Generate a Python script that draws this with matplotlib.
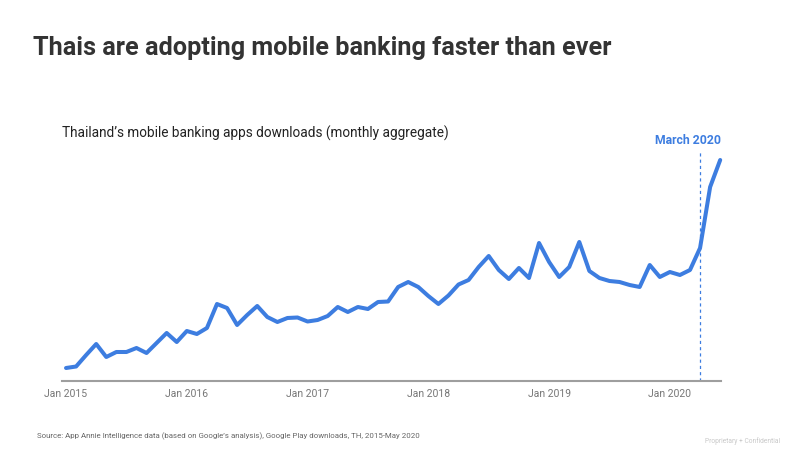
import matplotlib.pyplot as plt
import numpy as np

# monthly downloads index, Jan 2015 .. Jun 2020 (arbitrary units)
downloads = [13, 14.5, 26, 37, 24, 29, 29, 33, 28, 38, 48, 39,
             50, 47, 53, 77, 73, 56, 66, 75, 64, 59, 63, 63.5,
             59.5, 61, 65, 74, 69, 74, 72, 79, 79.5, 94, 99, 94,
             85, 77, 85.5, 96.5, 101, 114, 125, 111, 102, 113, 103, 138,
             119, 104, 114, 139, 110, 103, 100, 99, 96, 94, 116, 104,
             109, 106, 111, 133, 194, 221]
months = np.arange(len(downloads))
tick_months = [0, 12, 24, 36, 48, 60]
tick_labels = ['Jan 2015', 'Jan 2016', 'Jan 2017', 'Jan 2018', 'Jan 2019', 'Jan 2020']
marker_month = 63
marker_label = 'March 2020'

blue = '#3d7de0'
plt.rcParams['font.family'] = ['Roboto', 'DejaVu Sans']

fig = plt.figure(figsize=(8, 4.57), dpi=100)
ax = fig.add_axes([0.0775, 0.1663, 0.824, 0.5055])

ax.plot(months, downloads, color=blue, linewidth=2.9,
        solid_capstyle='round', solid_joinstyle='round', clip_on=False)
ax.axvline(marker_month, color=blue, linewidth=0.9, linestyle=(0, (2.5, 2.5)))
ax.text(1.0, 1.015, marker_label, transform=ax.transAxes,
        ha='right', va='bottom', color=blue, fontsize=8.8, fontweight='bold')

ax.set_xlim(-0.4, 65.1)
ax.set_ylim(0, 231)
ax.set_yticks([])
ax.set_xticks(tick_months, tick_labels)
ax.tick_params(axis='x', length=0, pad=6, labelsize=7.5, labelcolor='#777777')
for side in ['top', 'right', 'left']:
    ax.spines[side].set_visible(False)
ax.spines['bottom'].set_color('#9e9e9e')
ax.spines['bottom'].set_linewidth(1.5)

fig.text(0.041, 0.895, 'Thais are adopting mobile banking faster than ever',
         fontsize=18.2, fontweight='bold', color='#333333', va='center')
fig.text(0.0775, 0.709, 'Thailand\u2019s mobile banking apps downloads (monthly aggregate)',
         fontsize=9.8, color='#222222', va='center')
fig.text(0.046, 0.046,
         'Source: App Annie Intelligence data (based on Google\u2019s analysis), Google Play downloads, TH, 2015-May 2020',
         fontsize=5.7, color='#666666', va='center')
fig.text(0.975, 0.035, 'Proprietary + Confidential', fontsize=4.8, color='#c8c8c8',
         ha='right', va='center')

fig.savefig('out.png', dpi=100)
